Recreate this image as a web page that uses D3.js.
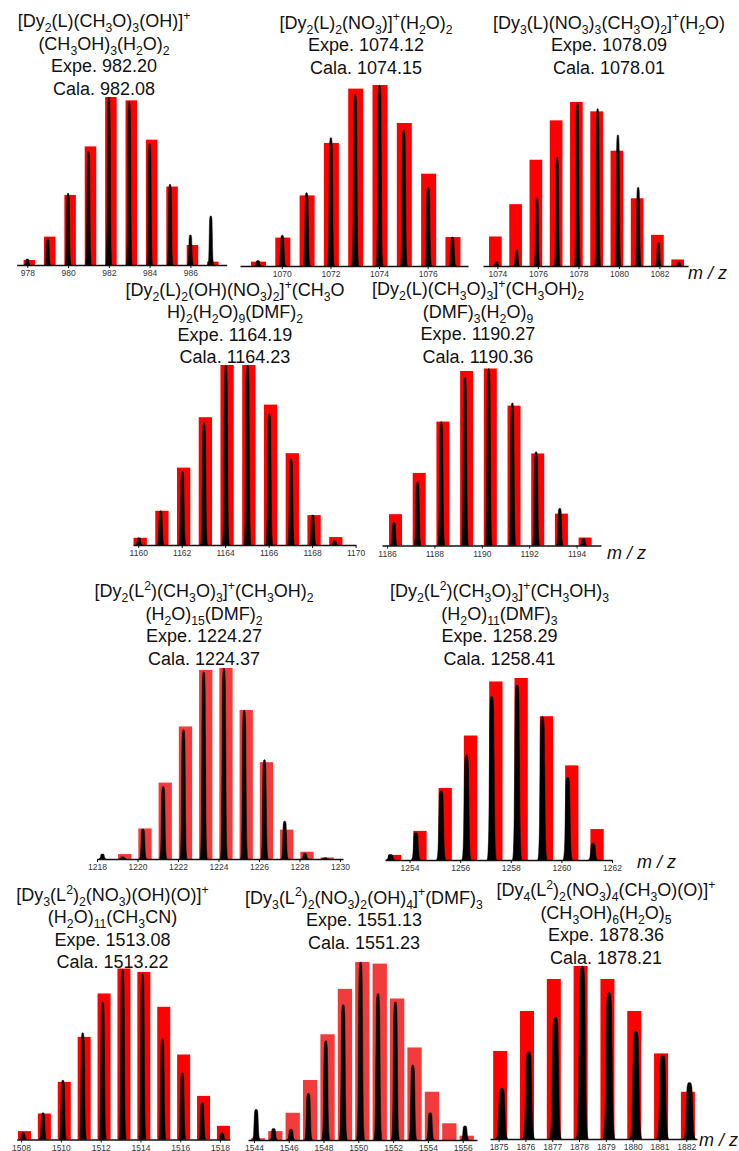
<!DOCTYPE html>
<html><head><meta charset="utf-8">
<script src="https://cdn.jsdelivr.net/npm/d3@7"></script>
<style>
body{margin:0;background:#fff}
svg{display:block}
text{font-family:"Liberation Sans",Arial,Helvetica,sans-serif}
</style></head><body>
<svg id="fig" width="739" height="1151"></svg>
<script>
// ---------- data: isotope envelopes (relative intensity) ----------
// m/z nominal masses per cluster
const mz1  = [978, 979, 980, 981, 982, 983, 984, 985, 986, 987];
const mz2  = [1069, 1070, 1071, 1072, 1073, 1074, 1075, 1076, 1077];
const mz3  = [1074, 1075, 1076, 1077, 1078, 1079, 1080, 1081, 1082, 1083];
const mz4  = [1160, 1161, 1162, 1163, 1164, 1165, 1166, 1167, 1168, 1169];
const mz5  = [1186, 1187, 1188, 1189, 1190, 1191, 1192, 1193, 1194];
const mz6  = [1218, 1219, 1220, 1221, 1222, 1223, 1224, 1225, 1226, 1227, 1228, 1229];
const mz7  = [1253, 1254, 1255, 1256, 1257, 1258, 1259, 1260, 1261];
const mz8  = [1508, 1509, 1510, 1511, 1512, 1513, 1514, 1515, 1516, 1517, 1518];
const mz9  = [1544, 1545, 1546, 1547, 1548, 1549, 1550, 1551, 1552, 1553, 1554, 1555, 1556];
const mz10 = [1875, 1876, 1877, 1878, 1879, 1880, 1881, 1882];

// simulated (calculated) pattern, red bars
const calc1  = [0.03, 0.169, 0.417, 0.706, 1.0, 0.98, 0.746, 0.467, 0.119, 0.02];
const calc2  = [0.024, 0.157, 0.39, 0.68, 0.98, 1.0, 0.79, 0.51, 0.16];
const calc3  = [0.18, 0.377, 0.648, 0.888, 1.0, 0.943, 0.703, 0.413, 0.19, 0.04];
const calc4  = [0.04, 0.19, 0.43, 0.71, 1.0, 1.0, 0.78, 0.51, 0.166, 0.044];
const calc5  = [0.177, 0.41, 0.70, 0.986, 1.0, 0.79, 0.52, 0.18, 0.045];
const calc6  = [0, 0.026, 0.16, 0.40, 0.694, 0.99, 1.0, 0.78, 0.507, 0.154, 0.038, 0.008];
const calc7  = [0.028, 0.16, 0.396, 0.684, 0.981, 1.0, 0.79, 0.52, 0.17];
const calc8  = [0.049, 0.152, 0.337, 0.60, 0.854, 1.0, 0.98, 0.776, 0.497, 0.255, 0.08];
const calc9  = [0.01, 0.05, 0.153, 0.337, 0.594, 0.849, 1.0, 0.991, 0.795, 0.52, 0.271, 0.094, 0.024];
const calc10 = [0.509, 0.74, 0.925, 1.0, 0.925, 0.74, 0.495, 0.273];

// measured spectrum, black peaks
const expt1  = [0.036, 0.159, 0.427, 0.676, 1.0, 0.974, 0.726, 0.481, 0.179, 0.292];
const expt2  = [0.03, 0.17, 0.405, 0.71, 0.95, 1.0, 0.755, 0.435, 0.16];
const expt3  = [0.026, 0.098, 0.413, 0.664, 1.0, 0.96, 0.80, 0.48, 0.145, 0.026];
const expt4  = [0.04, 0.19, 0.41, 0.68, 1.0, 1.0, 0.73, 0.48, 0.166, 0.025];
const expt5  = [0.13, 0.36, 0.70, 0.95, 1.0, 0.806, 0.53, 0.21, 0.04];
const expt6  = [0.026, 0.012, 0.157, 0.38, 0.677, 0.98, 1.0, 0.78, 0.52, 0.198, 0.03, 0.006];
const expt7  = [0.03, 0.15, 0.38, 0.578, 0.90, 0.963, 0.789, 0.455, 0.092];
const expt8  = [0.041, 0.156, 0.347, 0.624, 0.805, 0.994, 0.971, 0.591, 0.39, 0.216, 0.039];
const expt9  = [0.172, 0.065, 0.06, 0.262, 0.557, 0.761, 1.0, 0.823, 0.776, 0.421, 0.153, 0, 0.079];
const expt10 = [0.293, 0.505, 0.707, 1.0, 0.848, 0.624, 0.486, 0.326];

// fractional mass defect of each series (added to nominal m/z)
const calcDefect = [0.10, 0.04, -0.10, 0.09, 0.36, 0.37, 0.41, 0.17, 0.23, 0.06];
const exptDefect = [0.00, 0.02, -0.05, 0.03, 0.29, 0.27, 0.25, 0.10, 0.13, 0.12];

// axis tick labels
const ticks1  = [978, 980, 982, 984, 986];
const ticks2  = [1070, 1072, 1074, 1076];
const ticks3  = [1074, 1076, 1078, 1080, 1082];
const ticks4  = [1160, 1162, 1164, 1166, 1168, 1170];
const ticks5  = [1186, 1188, 1190, 1192, 1194];
const ticks6  = [1218, 1220, 1222, 1224, 1226, 1228, 1230];
const ticks7  = [1254, 1256, 1258, 1260, 1262];
const ticks8  = [1508, 1510, 1512, 1514, 1516, 1518];
const ticks9  = [1544, 1546, 1548, 1550, 1552, 1554, 1556];
const ticks10 = [1875, 1876, 1877, 1878, 1879, 1880, 1881, 1882];

// cluster formulas and mass values (_{..} subscript, ^{..} superscript)
const titles = [
  ["[Dy_{2}(L)(CH_{3}O)_{3}(OH)]^{+}", "(CH_{3}OH)_{3}(H_{2}O)_{2}", "Expe. 982.20", "Cala. 982.08"],
  ["[Dy_{2}(L)_{2}(NO_{3})]^{+}(H_{2}O)_{2}", "Expe. 1074.12", "Cala. 1074.15"],
  ["[Dy_{3}(L)(NO_{3})_{3}(CH_{3}O)_{2}]^{+}(H_{2}O)", "Expe. 1078.09", "Cala. 1078.01"],
  ["[Dy_{2}(L)_{2}(OH)(NO_{3})_{2}]^{+}(CH_{3}O", "H)_{2}(H_{2}O)_{9}(DMF)_{2}", "Expe. 1164.19", "Cala. 1164.23"],
  ["[Dy_{2}(L)(CH_{3}O)_{3}]^{+}(CH_{3}OH)_{2}", "(DMF)_{3}(H_{2}O)_{9}", "Expe. 1190.27", "Cala. 1190.36"],
  ["[Dy_{2}(L^{2})(CH_{3}O)_{3}]^{+}(CH_{3}OH)_{2}", "(H_{2}O)_{15}(DMF)_{2}", "Expe. 1224.27", "Cala. 1224.37"],
  ["[Dy_{2}(L^{2})(CH_{3}O)_{3}]^{+}(CH_{3}OH)_{3}", "(H_{2}O)_{11}(DMF)_{3}", "Expe. 1258.29", "Cala. 1258.41"],
  ["[Dy_{3}(L^{2})_{2}(NO_{3})(OH)(O)]^{+}", "(H_{2}O)_{11}(CH_{3}CN)", "Expe. 1513.08", "Cala. 1513.22"],
  ["[Dy_{3}(L^{2})_{2}(NO_{3})_{2}(OH)_{4}]^{+}(DMF)_{3}", "Expe. 1551.13", "Cala. 1551.23"],
  ["[Dy_{4}(L^{2})_{2}(NO_{3})_{4}(CH_{3}O)(O)]^{+}", "(CH_{3}OH)_{6}(H_{2}O)_{5}", "Expe. 1878.36", "Cala. 1878.21"]
];

const axisLabel = "m / z";

// ---------- layout ----------
const RED = "#ff0000", RED_LIGHT = "#f23c3c";
const layout = [
  {ax:[16.7,226.7], dom:[977.48,987.78],   base:265,   h:168, barW:11.5, pk:3,   col:RED,       tx:104,  ty:88.3},
  {ax:[240,468],    dom:[1068.28,1077.66], base:266,   h:181, barW:15,   pk:3.5, col:RED,       tx:366,  ty:67},
  {ax:[483,688],    dom:[1073.29,1083.41], base:266,   h:164, barW:12.7, pk:3,   col:RED,       tx:609,  ty:67},
  {ax:[133,356],    dom:[1159.76,1170.02], base:545,   h:180, barW:13.3, pk:3.5, col:RED,       tx:235,  ty:356.7},
  {ax:[382,601],    dom:[1185.79,1195.03], base:545.5, h:177, barW:13,   pk:3.5, col:RED,       tx:478,  ty:356},
  {ax:[97,343],     dom:[1218,1230.15],    base:859,   h:191, barW:13.3, pk:3.6, col:RED_LIGHT, tx:204,  ty:658},
  {ax:[385,612],    dom:[1253.03,1262.0],  base:860,   h:182, barW:13.3, pk:4.6, col:RED,       tx:499.5,ty:658.3},
  {ax:[16.7,230],   dom:[1507.78,1518.5],  base:1139.5,h:171, barW:13,   pk:3.6, col:RED,       tx:112.5,ty:961.7},
  {ax:[248,477],    dom:[1543.66,1556.82], base:1140,  h:178, barW:14.3, pk:4,   col:RED_LIGHT, tx:364,  ty:942},
  {ax:[490,697],    dom:[1874.68,1882.4],  base:1139,  h:173, barW:14,   pk:6,   col:RED,       tx:606,  ty:957}
];
const mzLabelPos = [[688,279],[607,559],[637,868],[699,1146]];

const mzs   = [mz1,mz2,mz3,mz4,mz5,mz6,mz7,mz8,mz9,mz10];
const calcs = [calc1,calc2,calc3,calc4,calc5,calc6,calc7,calc8,calc9,calc10];
const expts = [expt1,expt2,expt3,expt4,expt5,expt6,expt7,expt8,expt9,expt10];
const tickSets = [ticks1,ticks2,ticks3,ticks4,ticks5,ticks6,ticks7,ticks8,ticks9,ticks10];

const svg = d3.select("#fig");

// peak outline: [x offset in half-widths, fraction of apex height]
const peakProfile = [[-1,0],[-0.8,0.06],[-0.62,0.28],[-0.5,0.66],[-0.4,0.92],[-0.2,0.995],[0,1],
                     [0.2,0.995],[0.4,0.92],[0.5,0.66],[0.62,0.28],[0.8,0.06],[1,0]];
const peakLine = d3.line().curve(d3.curveMonotoneX);

// write a formula string with sub/superscripts as tspans
function richText(sel, str, size) {
  const parts = str.split(/([_^]\{[^}]*\})/).filter(s => s.length);
  let shift = 0;
  parts.forEach(p => {
    let txt = p, target = 0, fs = size;
    if (p[0] === "_") { txt = p.slice(2, -1); target = size * 0.28; fs = size * 0.68; }
    else if (p[0] === "^") { txt = p.slice(2, -1); target = -size * 0.4; fs = size * 0.68; }
    sel.append("tspan")
      .attr("dy", target - shift)
      .attr("font-size", fs)
      .text(txt);
    shift = target;
  });
}

layout.forEach((L, i) => {
  const g = svg.append("g");
  const x = d3.scaleLinear().domain(L.dom).range(L.ax);
  const y = d3.scaleLinear().domain([0, 1]).range([L.base, L.base - L.h]);
  const mz = mzs[i];

  // calculated isotope bars
  g.append("g").selectAll("rect")
    .data(mz.map((m, k) => ({m: m + calcDefect[i], v: calcs[i][k]})).filter(d => d.v > 0))
    .join("rect")
    .attr("x", d => x(d.m) - L.barW / 2)
    .attr("width", L.barW)
    .attr("y", d => y(d.v))
    .attr("height", d => y(0) - y(d.v))
    .attr("fill", L.col);

  // measured peaks
  g.append("g").selectAll("path")
    .data(mz.map((m, k) => ({m: m + exptDefect[i], v: expts[i][k]})).filter(d => d.v > 0))
    .join("path")
    .attr("d", d => {
      const cx = x(d.m), top = y(0) - y(d.v);
      return peakLine(peakProfile.map(([u, f]) => [cx + u * L.pk, L.base - f * top])) + "Z";
    })
    .attr("fill", "#000")
    .attr("stroke", "#000")
    .attr("stroke-width", 0.5);

  // m/z axis
  const ax = g.append("g")
    .attr("transform", `translate(0,${L.base})`)
    .call(d3.axisBottom(x).tickValues(tickSets[i]).tickFormat(d3.format("d"))
      .tickSize(3).tickSizeOuter(0).tickPadding(2));
  ax.select(".domain").attr("stroke", "#111").attr("stroke-width", 1.5);
  ax.selectAll(".tick line").attr("stroke", "#111");
  ax.selectAll(".tick text").attr("fill", "#333").attr("font-size", 8.5)
    .attr("font-family", "'Liberation Sans',Arial,sans-serif");

  // title block
  const lines = titles[i];
  lines.forEach((s, k) => {
    const cy = L.ty - (lines.length - 1 - k) * 22.5;
    const t = g.append("text")
      .attr("x", L.tx).attr("y", cy + 6.5)
      .attr("text-anchor", "middle")
      .attr("fill", "#111")
      .attr("font-size", 18);
    richText(t, s, 18);
  });
});

// axis captions
mzLabelPos.forEach(([px, py]) => {
  svg.append("text").attr("x", px).attr("y", py)
    .attr("font-size", 18).attr("font-style", "italic").attr("fill", "#111")
    .text(axisLabel);
});
</script>
</body></html>
